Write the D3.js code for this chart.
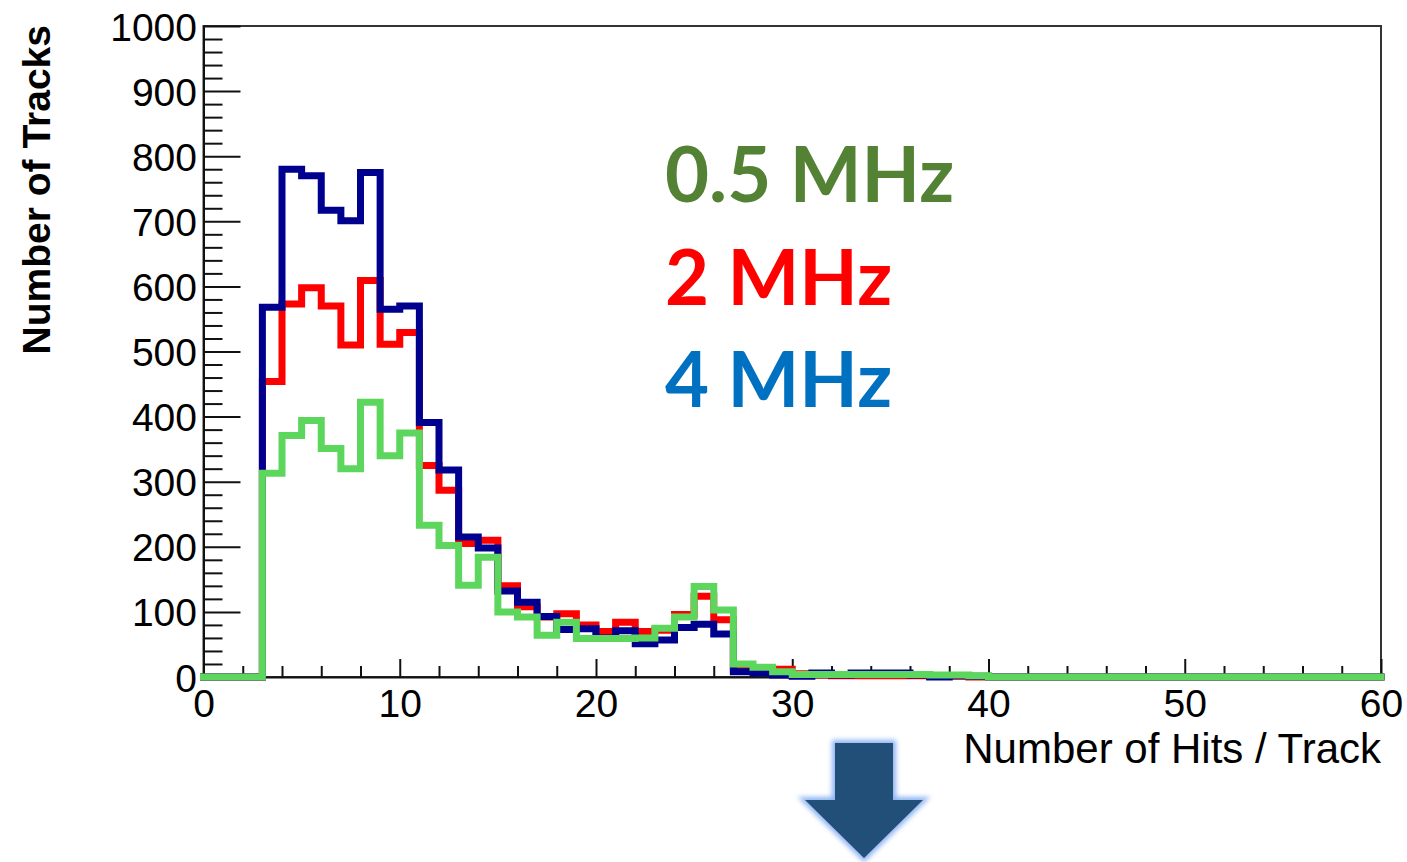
<!DOCTYPE html>
<html>
<head>
<meta charset="utf-8">
<script src="https://cdn.jsdelivr.net/npm/d3@7/dist/d3.min.js"></script>
<style>
  html, body { margin: 0; padding: 0; background: #ffffff; }
  svg { display: block; }
</style>
</head>
<body>
<svg id="chart" width="1407" height="862"></svg>
<script>
// Hits-per-track histograms, one entry per unit-wide bin starting at 0
const binCount = 60;
const tracks4MHz = [0,0,0,568,780,770,717,701,775,565, 570,391,318,215,198,132,115,93,73,74,
                    60,71,51,57,76,81,66,8,6,3, 1,6,3,6,6,6,3,0,2,1,
                    0,0,0,0,0,0,0,0,0,0, 0,0,0,0,0,0,0,0,0,0];
const tracks2MHz = [0,0,0,454,573,598,570,510,609,511, 529,325,287,205,210,140,108,92,97,80,
                    70,84,70,72,96,124,88,12,10,12, 5,3,2,2,2,2,2,1,1,0,
                    0,0,0,0,0,0,0,0,0,0, 0,0,0,0,0,0,0,0,0,0];
const tracks05MHz = [0,0,0,313,371,394,351,320,422,340, 375,233,202,141,184,100,92,64,84,59,
                     59,59,60,75,92,139,103,20,15,8, 4,4,4,4,4,4,4,3,3,2,
                     0,0,0,0,0,0,0,0,0,0, 0,0,0,0,0,0,0,0,0,0];

const xTickLabels = [0, 10, 20, 30, 40, 50, 60];
const yTickLabels = [0, 100, 200, 300, 400, 500, 600, 700, 800, 900, 1000];
const rateLabels = ["0.5 MHz", "2 MHz", "4 MHz"];

const svg = d3.select("#chart");
const frame = { left: 203.5, right: 1381, top: 26, bottom: 677 };

const x = d3.scaleLinear().domain([0, binCount]).range([frame.left, frame.right]);
const y = d3.scaleLinear().domain([0, 1000]).range([frame.bottom, frame.top]);

const axisFont = "'Liberation Sans', Arial, Helvetica, sans-serif";
const plainInt = d3.format("d");

// frame box
svg.append("rect")
  .attr("x", frame.left).attr("y", frame.top)
  .attr("width", frame.right - frame.left).attr("height", frame.bottom - frame.top)
  .attr("fill", "none").attr("stroke", "#333").attr("stroke-width", 2);

// y axis: major ticks every 100, minor every 20, drawn inward
const yMinor = d3.range(0, 1001, 20).filter(v => v % 100 !== 0);
svg.append("g")
  .attr("transform", `translate(${frame.left},0)`)
  .call(d3.axisLeft(y).tickValues(yMinor).tickSize(-19).tickFormat(""))
  .call(g => g.select(".domain").remove())
  .call(g => g.selectAll("line").attr("stroke", "#111").attr("stroke-width", 2));

const yAxis = svg.append("g")
  .attr("transform", `translate(${frame.left},0)`)
  .call(d3.axisLeft(y).tickValues(yTickLabels).tickFormat(plainInt)
    .tickSize(-37).tickPadding(6.5).tickSizeOuter(0));
yAxis.select(".domain").attr("stroke", "#111").attr("stroke-width", 2);
yAxis.selectAll("line").attr("stroke", "#111").attr("stroke-width", 2);
yAxis.selectAll("text")
  .attr("font-family", axisFont).attr("font-size", 39).attr("fill", "#000")
  .attr("dy", "0.36em");

// x axis: major ticks every 10, minor every 2
const xMinor = d3.range(0, binCount + 1, 2).filter(v => v % 10 !== 0);
svg.append("g")
  .attr("transform", `translate(0,${frame.bottom})`)
  .call(d3.axisBottom(x).tickValues(xMinor).tickSize(-11).tickFormat(""))
  .call(g => g.select(".domain").remove())
  .call(g => g.selectAll("line").attr("stroke", "#111").attr("stroke-width", 2));

const xAxis = svg.append("g")
  .attr("transform", `translate(0,${frame.bottom})`)
  .call(d3.axisBottom(x).tickValues(xTickLabels).tickFormat(plainInt)
    .tickSize(-18).tickSizeOuter(0));
xAxis.select(".domain").attr("stroke", "#111").attr("stroke-width", 2);
xAxis.selectAll("line").attr("stroke", "#111").attr("stroke-width", 2);
xAxis.selectAll("text")
  .attr("font-family", axisFont).attr("font-size", 39).attr("fill", "#000")
  .attr("y", 40).attr("dy", 0);

// axis titles
svg.append("text")
  .attr("x", frame.right).attr("y", 763)
  .attr("text-anchor", "end")
  .attr("font-family", axisFont).attr("font-size", 42).attr("fill", "#000")
  .text("Number of Hits / Track");

svg.append("text")
  .attr("transform", "translate(50,25) rotate(-90)")
  .attr("text-anchor", "end")
  .attr("font-family", axisFont).attr("font-size", 39).attr("font-weight", "bold").attr("fill", "#000")
  .text("Number of Tracks");

// step outlines for each rate
const stepLine = d3.line()
  .x(d => x(d.edge))
  .y(d => y(d.count))
  .curve(d3.curveStepAfter);

function stepPoints(counts) {
  const pts = counts.map((c, i) => ({ edge: i, count: c }));
  pts.push({ edge: binCount, count: counts[counts.length - 1] });
  return pts;
}

const series = [
  { counts: tracks2MHz, color: "#ff0000" },
  { counts: tracks4MHz, color: "#00008f" },
  { counts: tracks05MHz, color: "#5cd65c" }
];

svg.append("g").selectAll("path")
  .data(series)
  .join("path")
  .attr("d", s => stepLine(stepPoints(s.counts)))
  .attr("fill", "none")
  .attr("stroke", s => s.color)
  .attr("stroke-width", 7)
  .attr("stroke-linejoin", "miter")
  .attr("stroke-linecap", "square");

// rate labels
const labelColors = ["#548235", "#ff0000", "#0070c0"];
const labelBaselines = [202, 305, 407];
svg.append("g").selectAll("text")
  .data(rateLabels)
  .join("text")
  .attr("x", 665)
  .attr("y", (d, i) => labelBaselines[i])
  .attr("font-family", "Lato, 'Open Sans', sans-serif")
  .attr("font-weight", "bold")
  .attr("font-size", 76)
  .attr("fill", (d, i) => labelColors[i])
  .text(d => d);

// downward arrow with a soft glow
const defs = svg.append("defs");
const glow = defs.append("filter").attr("id", "arrowGlow")
  .attr("x", "-30%").attr("y", "-30%").attr("width", "160%").attr("height", "160%");
glow.append("feGaussianBlur").attr("stdDeviation", 2.5);

const arrowPath = "M835,743 L893,743 L893,800 L923,800 L864,858 L805,800 L835,800 Z";
svg.append("path")
  .attr("d", arrowPath)
  .attr("fill", "#8fb4f2")
  .attr("stroke", "#8fb4f2")
  .attr("stroke-width", 6)
  .attr("stroke-linejoin", "miter")
  .attr("filter", "url(#arrowGlow)");
svg.append("path")
  .attr("d", arrowPath)
  .attr("fill", "#214f78");
</script>
</body>
</html>
